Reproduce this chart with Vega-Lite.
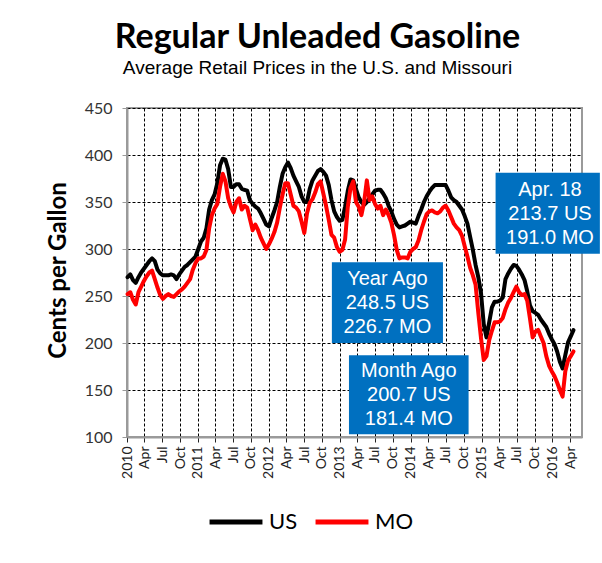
{
  "$schema": "https://vega.github.io/schema/vega-lite/v6.json",
  "width": 455,
  "height": 329,
  "autosize": {"type": "none"},
  "padding": {"left": 127, "top": 108, "right": 20, "bottom": 126},
  "background": "white",
  "title": {
    "text": "Regular Unleaded Gasoline",
    "subtitle": "Average Retail Prices in the U.S. and Missouri",
    "anchor": "middle",
    "frame": "group",
    "dx": -37,
    "offset": 22,
    "font": "Lato",
    "fontSize": 34,
    "fontWeight": "bold",
    "color": "#000000",
    "subtitleFont": "Liberation Sans",
    "subtitleFontSize": 19,
    "subtitleColor": "#000000",
    "subtitlePadding": 4
  },
  "config": {
    "view": {"stroke": "#9a9a9a", "strokeWidth": 2}
  },
  "datasets": {
    "prices": [
      {"d":"2010-01-04","US":270,"MO":252},{"d":"2010-01-18","US":273,"MO":254},{"d":"2010-02-01","US":267,"MO":246},{"d":"2010-02-15","US":264,"MO":241},
      {"d":"2010-03-01","US":270,"MO":254},{"d":"2010-03-15","US":275,"MO":260},{"d":"2010-03-29","US":279,"MO":266},{"d":"2010-04-12","US":283,"MO":271},
      {"d":"2010-04-26","US":287,"MO":275},{"d":"2010-05-10","US":290,"MO":277},{"d":"2010-05-24","US":287,"MO":268},{"d":"2010-06-07","US":278,"MO":259},
      {"d":"2010-06-21","US":274,"MO":251},{"d":"2010-07-05","US":272,"MO":247},{"d":"2010-07-19","US":272,"MO":250},{"d":"2010-08-02","US":272,"MO":252},
      {"d":"2010-08-16","US":273,"MO":250},{"d":"2010-08-30","US":272,"MO":249},{"d":"2010-09-13","US":268,"MO":252},{"d":"2010-09-27","US":273,"MO":255},
      {"d":"2010-10-11","US":277,"MO":257},{"d":"2010-10-25","US":281,"MO":260},{"d":"2010-11-08","US":283,"MO":264},{"d":"2010-11-22","US":286,"MO":268},
      {"d":"2010-12-06","US":289,"MO":278},{"d":"2010-12-20","US":292,"MO":285},{"d":"2011-01-03","US":300,"MO":290},{"d":"2011-01-17","US":308,"MO":290},
      {"d":"2011-01-31","US":312,"MO":292},{"d":"2011-02-14","US":322,"MO":299},{"d":"2011-02-28","US":342,"MO":322},{"d":"2011-03-14","US":352,"MO":336},
      {"d":"2011-03-28","US":358,"MO":343},{"d":"2011-04-11","US":370,"MO":348},{"d":"2011-04-25","US":389,"MO":366},{"d":"2011-05-09","US":396,"MO":380},
      {"d":"2011-05-23","US":395,"MO":372},{"d":"2011-06-06","US":385,"MO":354},{"d":"2011-06-20","US":366,"MO":345},{"d":"2011-07-04","US":366,"MO":339},
      {"d":"2011-07-18","US":369,"MO":350},{"d":"2011-08-01","US":369,"MO":354},{"d":"2011-08-15","US":364,"MO":342},{"d":"2011-08-29","US":363,"MO":346},
      {"d":"2011-09-12","US":362,"MO":344},{"d":"2011-09-26","US":352,"MO":332},{"d":"2011-10-10","US":348,"MO":320},{"d":"2011-10-24","US":345,"MO":326},
      {"d":"2011-11-07","US":343,"MO":320},{"d":"2011-11-21","US":338,"MO":312},{"d":"2011-12-05","US":332,"MO":306},{"d":"2011-12-19","US":326,"MO":300},
      {"d":"2012-01-02","US":324,"MO":305},{"d":"2012-01-16","US":333,"MO":311},{"d":"2012-01-30","US":341,"MO":318},{"d":"2012-02-13","US":350,"MO":328},
      {"d":"2012-02-27","US":366,"MO":344},{"d":"2012-03-12","US":380,"MO":358},{"d":"2012-03-26","US":387,"MO":370},{"d":"2012-04-09","US":392,"MO":370},
      {"d":"2012-04-23","US":386,"MO":358},{"d":"2012-05-07","US":378,"MO":346},{"d":"2012-05-21","US":372,"MO":344},{"d":"2012-06-04","US":366,"MO":340},
      {"d":"2012-06-18","US":356,"MO":329},{"d":"2012-07-02","US":350,"MO":317},{"d":"2012-07-16","US":350,"MO":338},{"d":"2012-07-30","US":364,"MO":349},
      {"d":"2012-08-13","US":373,"MO":353},{"d":"2012-08-27","US":378,"MO":360},{"d":"2012-09-10","US":383,"MO":369},{"d":"2012-09-24","US":385,"MO":372},
      {"d":"2012-10-08","US":382,"MO":359},{"d":"2012-10-22","US":378,"MO":346},{"d":"2012-11-05","US":368,"MO":331},{"d":"2012-11-19","US":352,"MO":315},
      {"d":"2012-12-03","US":340,"MO":312},{"d":"2012-12-17","US":334,"MO":302},{"d":"2012-12-31","US":330,"MO":297},{"d":"2013-01-14","US":331,"MO":299},
      {"d":"2013-01-28","US":345,"MO":310},{"d":"2013-02-11","US":362,"MO":345},{"d":"2013-02-25","US":374,"MO":365},{"d":"2013-03-11","US":373,"MO":372},
      {"d":"2013-03-25","US":364,"MO":350},{"d":"2013-04-08","US":355,"MO":345},{"d":"2013-04-22","US":350,"MO":336},{"d":"2013-05-06","US":347,"MO":350},
      {"d":"2013-05-20","US":350,"MO":373},{"d":"2013-06-03","US":354,"MO":352},{"d":"2013-06-17","US":358,"MO":356},{"d":"2013-07-01","US":362,"MO":348},
      {"d":"2013-07-15","US":363,"MO":343},{"d":"2013-07-29","US":363,"MO":346},{"d":"2013-08-12","US":359,"MO":336},{"d":"2013-08-26","US":354,"MO":342},
      {"d":"2013-09-09","US":346,"MO":336},{"d":"2013-09-23","US":340,"MO":328},{"d":"2013-10-07","US":332,"MO":315},{"d":"2013-10-21","US":326,"MO":299},
      {"d":"2013-11-04","US":323,"MO":290},{"d":"2013-11-18","US":324,"MO":291},{"d":"2013-12-02","US":325,"MO":291},{"d":"2013-12-16","US":327,"MO":290},
      {"d":"2013-12-30","US":329,"MO":297},{"d":"2014-01-13","US":328,"MO":300},{"d":"2014-01-27","US":327,"MO":302},{"d":"2014-02-10","US":335,"MO":309},
      {"d":"2014-02-24","US":342,"MO":320},{"d":"2014-03-10","US":350,"MO":329},{"d":"2014-03-24","US":356,"MO":337},{"d":"2014-04-07","US":361,"MO":340},
      {"d":"2014-04-21","US":365,"MO":341},{"d":"2014-05-05","US":368,"MO":339},{"d":"2014-05-19","US":368,"MO":338},{"d":"2014-06-02","US":368,"MO":340},
      {"d":"2014-06-16","US":368,"MO":344},{"d":"2014-06-30","US":368,"MO":346},{"d":"2014-07-14","US":362,"MO":341},{"d":"2014-07-28","US":355,"MO":334},
      {"d":"2014-08-11","US":352,"MO":327},{"d":"2014-08-25","US":350,"MO":323},{"d":"2014-09-08","US":346,"MO":320},{"d":"2014-09-22","US":342,"MO":314},
      {"d":"2014-10-06","US":335,"MO":303},{"d":"2014-10-20","US":327,"MO":292},{"d":"2014-11-03","US":313,"MO":280},{"d":"2014-11-17","US":299,"MO":272},
      {"d":"2014-12-01","US":283,"MO":262},{"d":"2014-12-15","US":270,"MO":232},{"d":"2014-12-29","US":253,"MO":205},{"d":"2015-01-12","US":220,"MO":182},
      {"d":"2015-01-26","US":206,"MO":186},{"d":"2015-02-09","US":222,"MO":203},{"d":"2015-02-23","US":238,"MO":213},{"d":"2015-03-09","US":244,"MO":222},
      {"d":"2015-03-23","US":244,"MO":222},{"d":"2015-04-06","US":245,"MO":223},{"d":"2015-04-20","US":248.5,"MO":226.7},{"d":"2015-05-04","US":268,"MO":236},
      {"d":"2015-05-18","US":274,"MO":243},{"d":"2015-06-01","US":279,"MO":248},{"d":"2015-06-15","US":283,"MO":254},{"d":"2015-06-29","US":282,"MO":260},
      {"d":"2015-07-13","US":278,"MO":254},{"d":"2015-07-27","US":273,"MO":251},{"d":"2015-08-10","US":267,"MO":252},{"d":"2015-08-24","US":255,"MO":245},
      {"d":"2015-09-07","US":240,"MO":226},{"d":"2015-09-21","US":234,"MO":206},{"d":"2015-10-05","US":232,"MO":212},{"d":"2015-10-19","US":230,"MO":214},
      {"d":"2015-11-02","US":225,"MO":207},{"d":"2015-11-16","US":221,"MO":200},{"d":"2015-11-30","US":217,"MO":186},{"d":"2015-12-14","US":210,"MO":176},
      {"d":"2015-12-28","US":204,"MO":170},{"d":"2016-01-11","US":199,"MO":165},{"d":"2016-01-25","US":191,"MO":158},{"d":"2016-02-08","US":180,"MO":150},
      {"d":"2016-02-22","US":173,"MO":143},{"d":"2016-03-07","US":187,"MO":170},{"d":"2016-03-21","US":200.7,"MO":181.4},{"d":"2016-04-04","US":207,"MO":186},
      {"d":"2016-04-18","US":213.7,"MO":191.0}
    ],
    "boxes": [
      {"x1":"2015-03-14","x2":"2016-09-01","y1":381,"y2":295,"tx":"2015-12-19","ty":337,"label":"Apr. 18|213.7 US|191.0 MO"},
      {"x1":"2012-11-21","x2":"2014-06-16","y1":286,"y2":200,"tx":"2013-09-03","ty":243,"label":"Year Ago|248.5 US|226.7 MO"},
      {"x1":"2013-02-17","x2":"2014-10-26","y1":187,"y2":103,"tx":"2013-12-22","ty":145,"label":"Month Ago|200.7 US|181.4 MO"}
    ]
  },
  "layer": [
    {
      "data": {"name": "prices"},
      "transform": [{"fold": ["US", "MO"], "as": ["series", "price"]}],
      "mark": {"type": "line", "strokeWidth": 4, "strokeJoin": "round", "strokeCap": "round"},
      "encoding": {
        "x": {
          "field": "d",
          "type": "temporal",
          "scale": {"type": "utc", "domain": [{"year": 2010, "month": 1, "date": 1, "utc": true}, {"year": 2016, "month": 6, "date": 1, "utc": true}]},
          "axis": {
            "title": null,
            "tickCount": {"interval": "month", "step": 3},
            "labelExpr": "utcmonth(datum.value) == 0 ? utcFormat(datum.value, '%Y') : utcFormat(datum.value, '%b')",
            "labelAngle": 270,
            "labelFont": "Lato",
            "labelFontSize": 14,
            "labelColor": "#222222",
            "labelPadding": 4,
            "labelOverlap": false,
            "labelBound": false,
            "labelFlush": false,
            "tickSize": 5,
            "tickColor": "#222222",
            "grid": true,
            "gridDash": [3, 2],
            "gridColor": "#000000",
            "gridOpacity": 1,
            "domainColor": "#9a9a9a",
            "domainWidth": 2
          }
        },
        "y": {
          "field": "price",
          "type": "quantitative",
          "scale": {"domain": [100, 450], "nice": false, "zero": false},
          "axis": {
            "title": "Cents per Gallon",
            "values": [100, 150, 200, 250, 300, 350, 400, 450],
            "labelFont": "Lato",
            "labelFontSize": 16,
            "labelColor": "#333333",
            "labelPadding": 10,
            "tickSize": 5,
            "tickColor": "#9a9a9a",
            "grid": true,
            "gridDash": [3, 2],
            "gridColor": "#000000",
            "gridOpacity": 1,
            "domainColor": "#9a9a9a",
            "domainWidth": 2,
            "titleFont": "Lato",
            "titleFontSize": 24,
            "titleFontWeight": "bold",
            "titleColor": "#000000",
            "titleX": -69,
            "titleY": 162,
            "titleAngle": 270,
            "titleAlign": "center",
            "titleBaseline": "middle"
          }
        },
        "color": {
          "field": "series",
          "type": "nominal",
          "sort": ["US", "MO"],
          "scale": {"domain": ["US", "MO"], "range": ["#000000", "#ff0000"]},
          "legend": {
            "orient": "none",
            "legendX": 80,
            "legendY": 385,
            "direction": "horizontal",
            "title": null,
            "symbolType": "stroke",
            "symbolSize": 2800,
            "symbolStrokeWidth": 5,
            "labelFont": "Lato",
            "labelFontSize": 22,
            "labelColor": "#000000",
            "labelOffset": 4,
            "columnPadding": 7
          }
        }
      }
    },
    {
      "data": {"name": "boxes"},
      "mark": {"type": "rect", "color": "#0070c0"},
      "encoding": {
        "x": {"field": "x1", "type": "temporal"},
        "x2": {"field": "x2"},
        "y": {"field": "y1", "type": "quantitative"},
        "y2": {"field": "y2"}
      }
    },
    {
      "data": {"name": "boxes"},
      "mark": {"type": "text", "color": "#ffffff", "font": "Liberation Sans", "fontSize": 20, "lineBreak": "|", "lineHeight": 24, "align": "center", "baseline": "middle", "dy": -24},
      "encoding": {
        "x": {"field": "tx", "type": "temporal"},
        "y": {"field": "ty", "type": "quantitative"},
        "text": {"field": "label", "type": "nominal"}
      }
    }
  ]
}
